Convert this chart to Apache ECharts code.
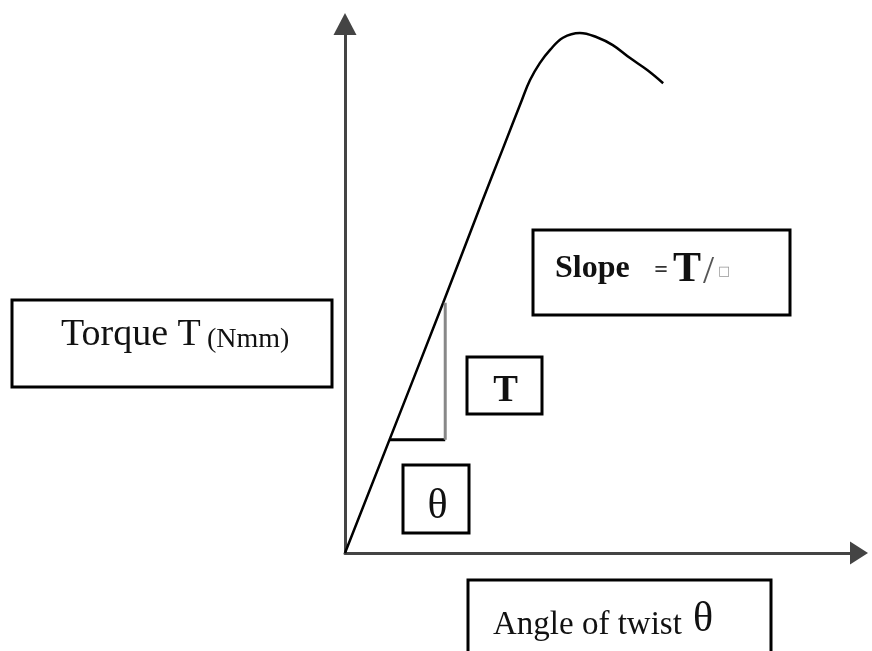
<!DOCTYPE html>
<html>
<head>
<meta charset="utf-8">
<script src="https://cdn.jsdelivr.net/npm/echarts@6/dist/echarts.min.js"></script>
<style>
  html, body { margin: 0; padding: 0; background: #fff; }
  #chart { width: 872px; height: 651px; }
</style>
</head>
<body>
<div id="chart"></div>
<script>
// torque-twist curve (arbitrary units)
var curveX = [0, 19.1, 26.7, 30.7, 34.4, 36.0, 37.9, 39.9, 42.4, 45.7, 49.0, 52.1, 55.4, 58.8, 61.9];
var curveY = [0, 47.3, 66.5, 76.4, 85.6, 89.4, 92.6, 95.1, 97.4, 98.3, 97.5, 96.0, 93.6, 91.3, 88.8];
// slope triangle
var triX = [8.75, 19.5, 19.5];
var triY = [21.4, 21.4, 47.3];

var serif = "'Liberation Serif', 'Times New Roman', serif";

var curve = curveX.map(function (x, i) { return [x, curveY[i]]; });

var chart = echarts.init(document.getElementById('chart'));

function box(x, y, w, h) {
  return {
    type: 'rect',
    shape: { x: x, y: y, width: w, height: h },
    style: { fill: 'none', stroke: '#000', lineWidth: 3 },
    z: 10
  };
}
function txt(x, y, s, size, opts) {
  opts = opts || {};
  return {
    type: 'text',
    x: x,
    y: y,
    style: {
      text: s,
      font: (opts.bold ? 'bold ' : '') + size + 'px ' + (opts.family || serif),
      fill: opts.color || '#111',
      textAlign: opts.align || 'left',
      textVerticalAlign: 'middle'
    },
    z: 11
  };
}

var option = {
  animation: false,
  backgroundColor: '#fff',
  grid: { left: 345, right: 13, top: 24, bottom: 98 },
  xAxis: {
    type: 'value',
    min: 0,
    max: 100,
    splitLine: { show: false },
    axisTick: { show: false },
    axisLabel: { show: false },
    axisLine: {
      onZero: false,
      symbol: ['none', 'triangle'],
      symbolSize: [23, 18],
      lineStyle: { color: '#444', width: 3 }
    }
  },
  yAxis: {
    type: 'value',
    min: 0,
    max: 100,
    splitLine: { show: false },
    axisTick: { show: false },
    axisLabel: { show: false },
    axisLine: {
      show: true,
      onZero: false,
      symbol: ['none', 'triangle'],
      symbolSize: [23, 22],
      lineStyle: { color: '#444', width: 3 }
    }
  },
  series: [
    {
      type: 'line',
      data: curve,
      smooth: 0.4,
      showSymbol: false,
      lineStyle: { color: '#000', width: 2.5 }
    },
    {
      type: 'line',
      data: [[triX[0], triY[0]], [triX[1], triY[1]]],
      showSymbol: false,
      lineStyle: { color: '#000', width: 3 }
    },
    {
      type: 'line',
      data: [[triX[1], triY[1]], [triX[2], triY[2]]],
      showSymbol: false,
      lineStyle: { color: '#888', width: 3 }
    }
  ],
  graphic: [
    // y label box
    box(12, 300, 320, 87),
    txt(61, 335, 'Torque T', 38),
    txt(207, 340, '(Nmm)', 28),
    // slope box
    box(533, 230, 257, 85),
    txt(555, 269, 'Slope', 32, { bold: true }),
    txt(661, 271, '=', 24, { bold: true, align: 'center', color: '#333' }),
    txt(673, 270, 'T', 42, { bold: true }),
    txt(703, 272, '/', 40, { color: '#555' }),
    txt(718, 272, '\u25A1', 13, { color: '#999', family: "'DejaVu Sans', sans-serif" }),
    // T box
    box(467, 357, 75, 57),
    txt(505.5, 391, 'T', 37, { bold: true, align: 'center' }),
    // theta box
    box(403, 465, 66, 68),
    txt(437.5, 507, '\u03B8', 42, { align: 'center' }),
    // x label box
    box(468, 580, 303, 80),
    txt(493, 625, 'Angle of twist', 33),
    txt(693, 620, '\u03B8', 42)
  ]
};

chart.setOption(option);
</script>
</body>
</html>
